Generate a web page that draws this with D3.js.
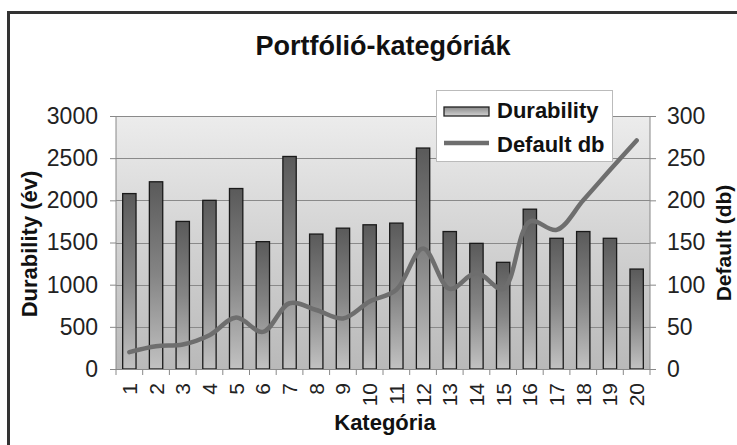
<!DOCTYPE html>
<html><head><meta charset="utf-8">
<script src="https://cdn.jsdelivr.net/npm/d3@7"></script>
<style>html,body{margin:0;padding:0;background:#fff}svg{display:block;font-family:"Liberation Sans",Arial,sans-serif}</style>
</head><body><svg id="c" width="737" height="445"></svg>
<script>
const categories = ["1","2","3","4","5","6","7","8","9","10","11","12","13","14","15","16","17","18","19","20"];
const durability = [2080,2220,1750,2000,2140,1510,2520,1600,1670,1710,1730,2620,1630,1490,1265,1895,1550,1630,1550,1185];
const defaultDb = [20,27,29,40,61,44,78,70,60,80,94,143,95,114,95,175,165,200,236,271];
const leftTicks = [0,500,1000,1500,2000,2500,3000];
const rightTicks = [0,50,100,150,200,250,300];
const title = "Portfólió-kategóriák";
const seriesNames = ["Durability","Default db"];

const svg = d3.select("#c");
const L=116,R=650,T=116,B=369;
const x = d3.scaleBand().domain(categories).range([L,R]).paddingInner(0.5).paddingOuter(0.25);
const yL = d3.scaleLinear().domain([0,3000]).range([B,T]);
const yR = d3.scaleLinear().domain([0,300]).range([B,T]);

const defs = svg.append("defs");
const bg = defs.append("linearGradient").attr("id","bg").attr("x1",0).attr("y1",0).attr("x2",0).attr("y2",1);
bg.append("stop").attr("offset","0%").attr("stop-color","#ececec");
bg.append("stop").attr("offset","100%").attr("stop-color","#b9b9b9");
const bar = defs.append("linearGradient").attr("id","bar").attr("x1",0).attr("y1",0).attr("x2",0).attr("y2",1);
bar.append("stop").attr("offset","0%").attr("stop-color","#5a5a5a");
bar.append("stop").attr("offset","50%").attr("stop-color","#858585");
bar.append("stop").attr("offset","100%").attr("stop-color","#c2c2c2");
const sw = defs.append("linearGradient").attr("id","sw").attr("x1",0).attr("y1",0).attr("x2",0).attr("y2",1);
sw.append("stop").attr("offset","0%").attr("stop-color","#8a8a8a");
sw.append("stop").attr("offset","100%").attr("stop-color","#d2d2d2");

// frame
svg.append("rect").attr("x",8.5).attr("y",12.5).attr("width",740).attr("height",440)
  .attr("fill","#fff").attr("stroke","#333").attr("stroke-width",3);

// plot background
svg.append("rect").attr("x",L).attr("y",T).attr("width",R-L).attr("height",B-T).attr("fill","url(#bg)");

// gridlines
svg.append("g").selectAll("line").data(leftTicks.slice(1)).join("line")
  .attr("x1",L).attr("x2",R).attr("y1",d=>Math.round(yL(d))+0.5).attr("y2",d=>Math.round(yL(d))+0.5)
  .attr("stroke","#8a8a8a").attr("stroke-width",1);

// bars
svg.append("g").selectAll("rect").data(durability).join("rect")
  .attr("x",(d,i)=>x(categories[i])).attr("width",x.bandwidth())
  .attr("y",d=>yL(d)).attr("height",d=>B-yL(d))
  .attr("fill","url(#bar)").attr("stroke","#1a1a1a").attr("stroke-width",1.3);

// axes lines
svg.append("line").attr("x1",L).attr("x2",L).attr("y1",T).attr("y2",B).attr("stroke","#888");
svg.append("line").attr("x1",R).attr("x2",R).attr("y1",T).attr("y2",B).attr("stroke","#888");
svg.append("line").attr("x1",L-6).attr("x2",R+6).attr("y1",B+0.5).attr("y2",B+0.5).attr("stroke","#888");

// left axis
const la = svg.append("g").attr("transform",`translate(${L},0)`)
  .call(d3.axisLeft(yL).tickValues(leftTicks).tickFormat(d3.format("d")).tickSize(6).tickPadding(12));
la.select(".domain").remove();
la.selectAll(".tick line").attr("stroke","#888");
la.selectAll("text").attr("font-size",23).attr("fill","#222").attr("font-family","Liberation Sans, Arial");

// right axis
const ra = svg.append("g").attr("transform",`translate(${R},0)`)
  .call(d3.axisRight(yR).tickValues(rightTicks).tickFormat(d3.format("d")).tickSize(6).tickPadding(11));
ra.select(".domain").remove();
ra.selectAll(".tick line").attr("stroke","#888");
ra.selectAll("text").attr("font-size",23).attr("fill","#222").attr("font-family","Liberation Sans, Arial");

// x ticks at band boundaries
const step = x.step();
svg.append("g").selectAll("line").data(d3.range(categories.length+1)).join("line")
  .attr("x1",i=>L+i*step).attr("x2",i=>L+i*step).attr("y1",B).attr("y2",B+6).attr("stroke","#888");
// x labels
svg.append("g").selectAll("text").data(categories).join("text")
  .attr("transform",d=>`translate(${x(d)+x.bandwidth()/2+7.5},${B+14}) rotate(-90)`)
  .attr("text-anchor","end").attr("font-size",21).attr("fill","#222").text(d=>d);

// line
const line = d3.line().x((d,i)=>x(categories[i])+x.bandwidth()/2).y(d=>yR(d)).curve(d3.curveCatmullRom.alpha(0.5));
svg.append("path").datum(defaultDb).attr("d",line).attr("fill","none")
  .attr("stroke","#6e6e6e").attr("stroke-width",4.5).attr("stroke-linejoin","round").attr("stroke-linecap","round");

// title
svg.append("text").attr("x",383).attr("y",55).attr("text-anchor","middle").attr("font-size",27)
  .attr("font-weight","bold").attr("fill","#111").text(title);
// axis titles
svg.append("text").attr("transform","translate(37,244) rotate(-90)").attr("text-anchor","middle")
  .attr("font-size",22).attr("font-weight","bold").attr("fill","#111").text("Durability (év)");
svg.append("text").attr("transform","translate(731,243) rotate(-90)").attr("text-anchor","middle")
  .attr("font-size",21).attr("font-weight","bold").attr("fill","#111").text("Default (db)");
svg.append("text").attr("x",385).attr("y",430).attr("text-anchor","middle")
  .attr("font-size",22).attr("font-weight","bold").attr("fill","#111").text("Kategória");

// legend
const lg = svg.append("g");
lg.append("rect").attr("x",436.5).attr("y",90.5).attr("width",176).attr("height",71)
  .attr("fill","#fff").attr("stroke","#bbb");
lg.append("rect").attr("x",444).attr("y",107).attr("width",45).attr("height",9)
  .attr("fill","url(#sw)").attr("stroke","#222").attr("stroke-width",1.3);
lg.append("text").attr("x",497).attr("y",118).attr("font-size",22).attr("font-weight","bold").attr("fill","#111").text(seriesNames[0]);
lg.append("line").attr("x1",444).attr("x2",489).attr("y1",143).attr("y2",143)
  .attr("stroke","#6e6e6e").attr("stroke-width",4.5);
lg.append("text").attr("x",497).attr("y",152).attr("font-size",22).attr("font-weight","bold").attr("fill","#111").text(seriesNames[1]);
</script></body></html>
